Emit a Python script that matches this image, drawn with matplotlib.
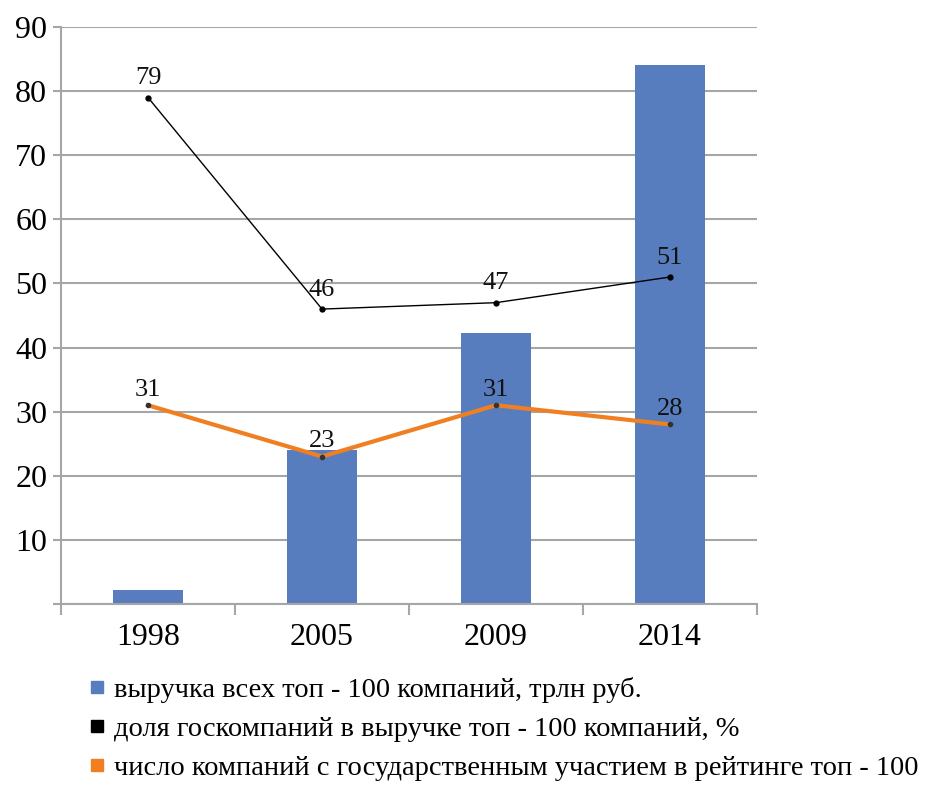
import numpy as np
import matplotlib
matplotlib.use("Agg")
import matplotlib.pyplot as plt
from matplotlib.lines import Line2D

plt.rcParams['font.family'] = ['Liberation Serif', 'DejaVu Serif']

# data
years = ['1998', '2005', '2009', '2014']
revenue = [2.2, 24, 42.2, 84]          # выручка, трлн руб.
state_share = [79, 46, 47, 51]         # доля госкомпаний, %
state_count = [31, 23, 31, 28]         # число компаний с госучастием

legend_labels = ['выручка всех топ - 100 компаний, трлн руб.',
                 'доля госкомпаний в выручке топ - 100 компаний, %',
                 'число компаний с государственным участием в рейтинге топ - 100']

bar_color = '#587DBF'
orange = '#F07F22'
grid_color = '#A6A6A6'

fig = plt.figure(figsize=(9.49, 7.85), dpi=100)
ax = fig.add_axes([0.0643, 0.2306, 0.7334, 0.735])

x = np.arange(len(years))
ax.bar(x, revenue, width=0.4, color=bar_color, zorder=2)
ax.plot(x, state_share, color='black', lw=1, marker='o', markersize=3.5, zorder=3)
ax.plot(x, state_count, color=orange, lw=3, marker='o', markersize=3,
        markerfacecolor='#333333', markeredgecolor='#333333', zorder=3)

for xi, v in zip(x, state_share):
    ax.annotate(str(v), (xi, v), xytext=(0, 14), textcoords='offset points',
                ha='center', va='center', fontsize=19, color='#111111')
for xi, v in zip(x, state_count):
    ax.annotate(str(v), (xi, v), xytext=(0, 11), textcoords='offset points',
                ha='center', va='center', fontsize=19, color='#111111')

ax.set_xlim(-0.5, 3.5)
ax.set_ylim(0, 90)
ax.set_yticks(np.arange(0, 91, 10))
ax.set_yticklabels([''] + [str(v) for v in range(10, 91, 10)])
ax.yaxis.grid(True, color=grid_color, lw=1.5, zorder=0)
ax.set_axisbelow(True)

ax.set_xticks(x)
ax.set_xticklabels(years)
ax.set_xticks(np.arange(-0.5, 4, 1), minor=True)
ax.tick_params(axis='x', which='major', length=0, pad=14, labelsize=23)
ax.tick_params(axis='x', which='minor', length=8, width=1.5, color=grid_color)
ax.tick_params(axis='y', length=6, width=1.5, color=grid_color, labelsize=23, pad=4)

for side in ['top', 'right']:
    ax.spines[side].set_visible(False)
for side in ['left', 'bottom']:
    ax.spines[side].set_color(grid_color)
    ax.spines[side].set_linewidth(1.5)

handles = [Line2D([], [], ls='none', marker='s', markersize=8, color=c)
           for c in [bar_color, 'black', orange]]
fig.legend(handles, legend_labels, loc='upper left', bbox_to_anchor=(0.093, 0.137),
           frameon=False, fontsize=20.5, handlelength=0.6, handletextpad=0.3,
           labelspacing=0.45, borderpad=0, borderaxespad=0)

fig.savefig('out.png', dpi=100)
